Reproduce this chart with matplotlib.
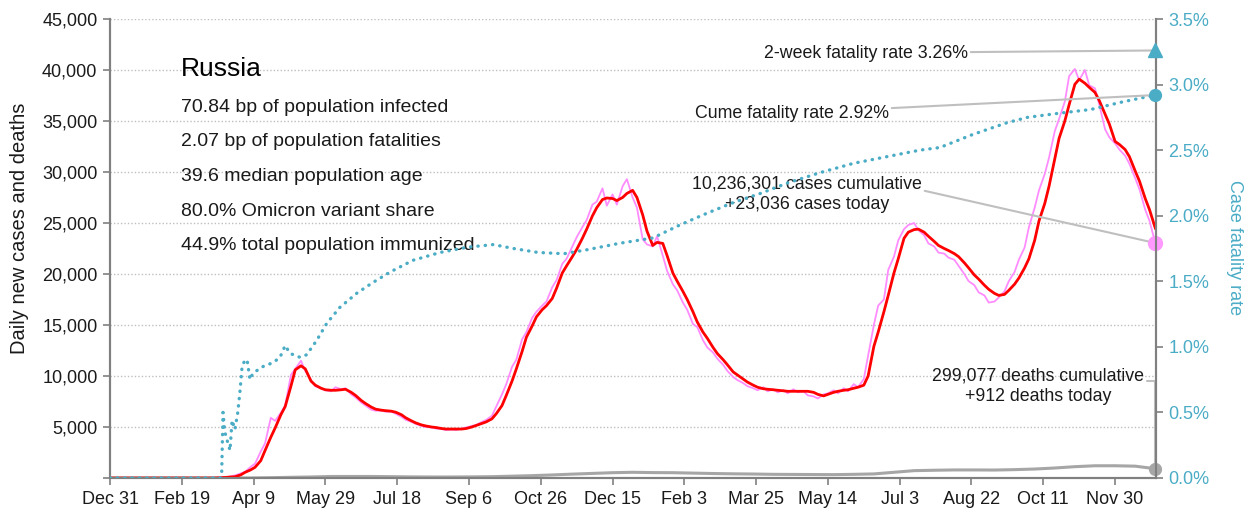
import numpy as np
import matplotlib
matplotlib.use("Agg")
import matplotlib.pyplot as plt

plt.rcParams['font.family'] = ['Liberation Sans', 'DejaVu Sans']

# days counted from Dec 31, 2019
x_ticks = np.arange(0, 701, 50)
x_labels = ['Dec 31', 'Feb 19', 'Apr 9', 'May 29', 'Jul 18', 'Sep 6', 'Oct 26',
            'Dec 15', 'Feb 3', 'Mar 25', 'May 14', 'Jul 3', 'Aug 22', 'Oct 11', 'Nov 30']

# 7-day average of new cases, two readings per week (day 7k and 7k+3), last day 728
avg_cases = [0, 0, 0, 0, 0, 0, 0, 0, 0, 0, 0, 0, 0, 0, 0, 0, 0, 0, 0, 0, 0, 0,
             30, 50, 100, 120, 300, 550, 800, 1050, 1700, 2700, 4000, 4900,
             6200, 7000, 9000, 10600, 11000, 10700, 9500, 9100, 8800, 8650,
             8600, 8600, 8650, 8700, 8400, 8100, 7600, 7300, 6950, 6750,
             6650, 6600, 6550, 6450, 6200, 5900, 5600, 5400, 5200, 5100,
             5000, 4950, 4850, 4800, 4800, 4800, 4800, 4850, 5000, 5150,
             5350, 5500, 5800, 6300, 7100, 8100, 9500, 10700, 12400, 13800,
             14900, 15800, 16500, 16900, 17600, 18600, 20100, 20800, 21700, 22400,
             23500, 24400, 25700, 26500, 27300, 27450, 27400, 27200, 27500, 27900,
             28200, 27500, 25800, 24200, 22800, 23100, 23000, 21800, 20100, 19300,
             18300, 17500, 16300, 15300, 14300, 13700, 12800, 12200, 11600, 11100,
             10400, 10100, 9700, 9400, 9100, 8900, 8750, 8700, 8650, 8600,
             8550, 8500, 8500, 8500, 8500, 8500, 8400, 8200, 8050, 8200,
             8400, 8500, 8600, 8650, 8800, 8900, 9100, 10000, 12900, 14300,
             16300, 17900, 20100, 21500, 23500, 24100, 24350, 24400, 24100, 23700,
             23200, 22800, 22500, 22300, 22000, 21700, 21100, 20600, 19900, 19500,
             18900, 18500, 18100, 17900, 18000, 18400, 19000, 19600, 20600, 21500,
             23300, 25200, 26900, 28600, 31300, 33300, 35000, 36600, 38600, 39100,
             38700, 38300, 37800, 37000, 35700, 34700, 33000, 32700, 32200, 31500,
             30100, 29100, 27400, 26300, 24500]

# reported new cases on the same days
new_cases = [0, 0, 0, 0, 0, 0, 0, 0, 0, 0, 0, 0, 0, 0, 0, 0, 0, 0, 0, 0, 0, 0,
             50, 60, 150, 250, 450, 600, 1100, 1400, 2600, 3400, 5900, 5600,
             6400, 7100, 10100, 10700, 11500, 10500, 9600, 9000, 8800, 8600,
             8500, 8900, 8700, 8800, 8200, 7900, 7400, 7100, 6700, 6600,
             6600, 6500, 6500, 6300, 6000, 5700, 5500, 5300, 5100, 5000,
             4950, 4850, 4800, 4700, 4750, 4700, 4850, 4950, 5100, 5200,
             5500, 5700, 6100, 7000, 8200, 9200, 10900, 11600, 13600, 14300,
             15700, 16300, 16900, 17300, 18700, 19400, 21000, 21500, 22700, 23600,
             24600, 25300, 26800, 27100, 28400, 26700, 27800, 26800, 28600, 29300,
             27500, 26500, 23400, 22900, 22700, 23700, 21800, 20300, 19000, 18400,
             17200, 16500, 15100, 14800, 13500, 12800, 12300, 11700, 11100, 10500,
             9900, 9600, 9300, 9000, 8800, 8600, 8900, 8500, 8700, 8400,
             8600, 8300, 8700, 8400, 8500, 8100, 8000, 7800, 8200, 8300,
             8600, 8300, 8800, 8500, 9200, 8900, 9700, 12000, 15000, 16900,
             17500, 20400, 21700, 23300, 24400, 24800, 25000, 24300, 23800, 23000,
             22700, 22100, 22000, 21600, 21400, 20800, 20000, 19300, 18900, 18200,
             17900, 17200, 17300, 17700, 18300, 19300, 20200, 21400, 22600, 24600,
             26500, 28200, 29800, 31400, 34000, 35200, 36900, 39400, 40100, 39000,
             40000, 38500, 38200, 36600, 34200, 33400, 32800, 32200, 31600, 30800,
             29400, 28300, 26300, 25200, 23036]

# daily deaths, every 14 days
deaths = [0, 0, 0, 0, 0, 0, 0, 5, 30, 70, 100, 150, 150, 150, 130, 110, 100, 100,
          110, 130, 180, 230, 300, 380, 450, 520, 560, 530, 520, 480, 440, 410, 390,
          360, 350, 340, 330, 360, 400, 560, 720, 760, 790, 790, 780, 820, 880, 980,
          1110, 1200, 1200, 1160, 912]

# cumulative case fatality rate, %
cfr_days = [0, 77, 77.8, 78.7, 80, 81.5, 83.6, 85, 87, 89, 90.6, 92, 94, 95.5, 97.5,
            99.6, 106.6, 113.6, 118.4, 122, 125.4, 132.4, 137, 144, 151, 160, 172,
            183, 195, 211, 230, 249, 267, 281, 298, 316, 332, 355, 378, 397, 416,
            434, 453, 472, 495, 518, 541, 564, 578, 601, 625, 639, 660, 683, 706, 728]
cfr = [0, 0, 0.04, 0.50, 0.35, 0.29, 0.21, 0.44, 0.37, 0.50, 0.67, 0.85, 0.90, 0.90,
       0.75, 0.80, 0.85, 0.88, 0.92, 1.01, 0.95, 0.92, 0.94, 1.05, 1.18, 1.30, 1.41,
       1.49, 1.57, 1.66, 1.72, 1.76, 1.78, 1.75, 1.72, 1.71, 1.74, 1.79, 1.83, 1.93,
       2.02, 2.10, 2.17, 2.25, 2.33, 2.40, 2.45, 2.50, 2.52, 2.62, 2.71, 2.75, 2.78,
       2.81, 2.87, 2.92]

two_week_cfr = 3.26
cum_cases = 10236301
cum_deaths = 299077
today_cases = new_cases[-1]
today_deaths = deaths[-1]

stats = ['70.84 bp of population infected',
         '2.07 bp of population fatalities',
         '39.6 median population age',
         '80.0% Omicron variant share',
         '44.9% total population immunized']

case_days = np.sort(np.concatenate([np.arange(0, 728, 7), np.arange(3, 728, 7), [728]]))
death_days = np.arange(0, 729, 14)

TEAL = '#4BACC6'
PINK = '#FF8CFF'
GRAY_LINE = '#A6A6A6'
LEADER = '#BFBFBF'
SPINE = '#808080'
TXT = '#1A1A1A'

fig = plt.figure(figsize=(12.52, 5.18), dpi=100)
ax = fig.add_axes([110 / 1252, 40 / 518, 1046 / 1252, 459 / 518])
ax2 = ax.twinx()

ax.plot(case_days, new_cases, color=PINK, lw=1.3, zorder=2)
ax.plot(case_days, avg_cases, color='#FF0000', lw=2.0, zorder=3)
ax.plot(death_days, deaths, color=GRAY_LINE, lw=2.2, zorder=2)
ax2.plot(cfr_days, cfr, color=TEAL, lw=2.4, linestyle=(0, (0.1, 2.1)),
         dash_capstyle='round', zorder=3)

ax.set_xlim(0, 728.5)
ax.set_ylim(0, 45000)
ax2.set_ylim(0, 3.5)

ax.set_yticks(np.arange(0, 45001, 5000))
ax.set_yticklabels([''] + [f'{v:,}' for v in range(5000, 45001, 5000)])
ax2.set_yticks(np.arange(0, 3.51, 0.5))
ax2.set_yticklabels([f'{v:.1f}%' for v in np.arange(0, 3.51, 0.5)])
ax.set_xticks(x_ticks)
ax.set_xticklabels(x_labels)

for v in range(5000, 45001, 5000):
    ax.axhline(v, color='#BFBFBF', lw=1.0, linestyle=(0, (1, 1.5)), zorder=0)

for a in (ax, ax2):
    a.spines['top'].set_visible(False)
    for s in ('left', 'right', 'bottom'):
        a.spines[s].set_color(SPINE)
        a.spines[s].set_linewidth(1.5)
ax.tick_params(axis='both', direction='out', length=5, width=1.2, color=SPINE,
               labelsize=13, labelcolor=TXT, pad=4)
ax2.tick_params(axis='y', direction='out', length=5, width=1.2, color=SPINE,
                labelsize=13, labelcolor=TEAL, pad=4)

fig.text(20 / 1252, 1 - 228 / 518, 'Daily new cases and deaths', rotation=90,
         ha='center', va='center', fontsize=14.5, color=TXT)
fig.text(1235 / 1252, 1 - 248 / 518, 'Case fatality rate', rotation=270,
         ha='center', va='center', fontsize=13, color=TEAL)

# headline block
def ax_pt(px, py):
    return (px - 110) / 1046, (478 - py) / 459

ax.text(*ax_pt(181, 76), 'Russia', transform=ax.transAxes, fontsize=19,
        color='#000000', va='baseline', ha='left')
for i, line in enumerate(stats):
    ax.text(*ax_pt(181, 112 + 34.5 * i), line, transform=ax.transAxes,
            fontsize=14, color=TXT, va='baseline', ha='left')

# end-of-series markers
ax2.plot([728], [two_week_cfr], marker='^', ms=10, color=TEAL, clip_on=False, zorder=5)
ax2.plot([728], [cfr[-1]], marker='o', ms=8.5, color=TEAL, clip_on=False, zorder=5)
ax.plot([728], [today_cases], marker='o', ms=10, color='#FF99FF', clip_on=False, zorder=5)
ax.plot([728], [today_deaths], marker='o', ms=8.5, color=GRAY_LINE, clip_on=False, zorder=5)

line_kw = dict(arrowstyle='-', color=LEADER, lw=1.5, shrinkA=0, shrinkB=0)

ax2.annotate(f'2-week fatality rate {two_week_cfr:.2f}%', xy=(728, two_week_cfr),
             xytext=ax_pt(968, 53), textcoords=ax.transAxes, ha='right', va='center',
             fontsize=12.8, color=TXT, arrowprops=line_kw, annotation_clip=False)
ax2.annotate(f'Cume fatality rate {cfr[-1]:.2f}%', xy=(728, cfr[-1]),
             xytext=ax_pt(889, 113), textcoords=ax.transAxes, ha='right', va='center',
             fontsize=12.8, color=TXT, arrowprops=line_kw, annotation_clip=False)

ax.annotate(f'{cum_cases:,} cases cumulative\n+{today_cases:,} cases today',
            xy=(728, today_cases), xytext=ax_pt(807, 194), textcoords=ax.transAxes,
            ha='center', va='center', fontsize=12.8, color=TXT, linespacing=1.3,
            arrowprops=dict(line_kw, relpos=(1.0, 0.6)), annotation_clip=False)
ax.annotate(f'{cum_deaths:,} deaths cumulative\n+{today_deaths:,} deaths today',
            xy=(728, today_deaths), xytext=ax_pt(1038, 386), textcoords=ax.transAxes,
            ha='center', va='center', fontsize=12.8, color=TXT, linespacing=1.3,
            arrowprops=dict(line_kw, relpos=(1.0, 0.62),
                            connectionstyle='angle,angleA=0,angleB=90,rad=0'),
            annotation_clip=False)

fig.savefig('out.png', dpi=100)
